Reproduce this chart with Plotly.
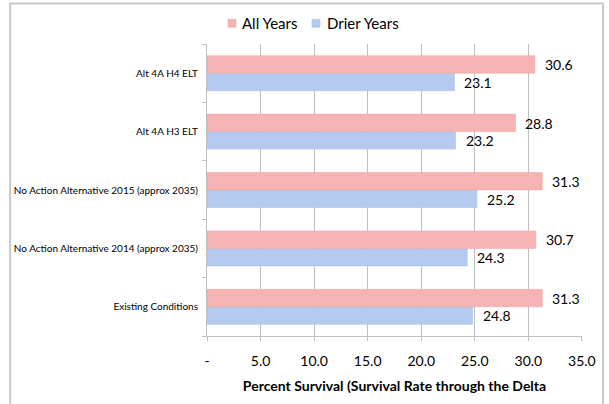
import plotly.graph_objects as go

categories = ["Existing Conditions",
              "No Action Alternative 2014 (approx 2035)",
              "No Action Alternative 2015 (approx 2035)",
              "Alt 4A H3 ELT",
              "Alt 4A H4 ELT"]
all_years = [31.3, 30.7, 31.3, 28.8, 30.6]
drier_years = [24.8, 24.3, 25.2, 23.2, 23.1]
series_names = ["All Years", "Drier Years"]
tick_vals = [0, 5, 10, 15, 20, 25, 30, 35]
tick_text = ["-", "5.0", "10.0", "15.0", "20.0", "25.0", "30.0", "35.0"]

FONT = "Lato, 'Open Sans', sans-serif"
PINK = "#F5B4B3"
BLUE = "#B4CBEF"

fig = go.Figure()
fig.add_trace(go.Bar(y=categories, x=drier_years, orientation="h", name=series_names[1],
                     marker=dict(color=BLUE, line=dict(color="#A3BCE6", width=0.5))))
fig.add_trace(go.Bar(y=categories, x=all_years, orientation="h", name=series_names[0],
                     marker=dict(color=PINK, line=dict(color="#EDA3A2", width=0.5))))

anns = []
for c, v in zip(categories, all_years):
    anns.append(dict(x=v, y=c, text=f"{v:.1f}", showarrow=False, xanchor="left",
                     xshift=8, yshift=8.5, font=dict(family=FONT, size=14, color="#000")))
for c, v in zip(categories, drier_years):
    anns.append(dict(x=v, y=c, text=f"{v:.1f}", showarrow=False, xanchor="left",
                     xshift=8, yshift=-9, font=dict(family=FONT, size=14, color="#000")))

# custom compact legend (paper coordinates)
legend_items = [(series_names[0], PINK, "#EDA3A2", 0.056, 0.088),
                (series_names[1], BLUE, "#A3BCE6", 0.280, 0.3147)]
shapes = [dict(type="rect", xref="paper", yref="paper", x0=-0.525, x1=1.056,
               y0=-0.4, y1=1.139, line=dict(color="#C8C8C8", width=2),
               fillcolor="rgba(0,0,0,0)", layer="below")]
for name, col, lcol, sx, tx in legend_items:
    shapes.append(dict(type="rect", xref="paper", yref="paper", x0=sx, x1=sx + 0.0213,
                       y0=1.0574, y1=1.0845, fillcolor=col, line=dict(color=lcol, width=0.5)))
    anns.append(dict(xref="paper", yref="paper", x=tx, y=1.0709, text=name,
                     showarrow=False, xanchor="left", yanchor="middle",
                     font=dict(family=FONT, size=15, color="#000")))

fig.update_layout(
    width=609, height=404,
    margin=dict(l=207, r=27, t=44, b=64),
    paper_bgcolor="white", plot_bgcolor="white",
    barmode="group", bargap=0.40, bargroupgap=0,
    font=dict(family=FONT, color="#000"),
    showlegend=False,
    annotations=anns,
    shapes=shapes,
)
fig.update_xaxes(range=[0, 35.01], tickvals=tick_vals, ticktext=tick_text,
                 showgrid=True, gridcolor="#BFBFBF", gridwidth=1,
                 showline=True, linecolor="#BFBFBF", linewidth=1,
                 ticks="outside", ticklen=4, tickcolor="#BFBFBF",
                 tickfont=dict(family=FONT, size=14), zeroline=False,
                 ticklabelstandoff=8,
                 title=dict(text="<b>Percent Survival (Survival Rate through the Delta</b>",
                            font=dict(family=FONT, size=14), standoff=13))
fig.update_yaxes(showgrid=False, showline=True, linecolor="#BFBFBF", linewidth=1,
                 ticks="outside", ticklen=4, tickcolor="#BFBFBF", tickson="boundaries",
                 tickfont=dict(family=FONT, size=10), ticklabelstandoff=6)

fig.write_html("out.html", config={"displayModeBar": False})

with open("out.html", encoding="utf-8") as f:
    html = f.read()
html = html.replace("<body>", '<body style="margin:0;padding:0;overflow:hidden">', 1)
with open("out.html", "w", encoding="utf-8") as f:
    f.write(html)
